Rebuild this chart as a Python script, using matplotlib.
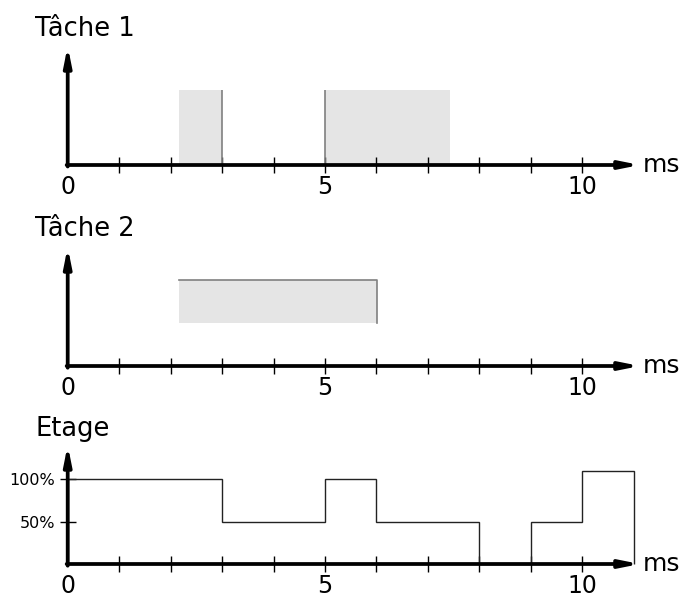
import matplotlib
import matplotlib.pyplot as plt

matplotlib.use('Agg')

tache1_debut = [2.16, 5.0]
tache1_fin = [3.0, 7.43]
tache1_traits = [3.0, 5.0]      # fin / début marqués d'un trait gris

tache2_debut = [2.16]
tache2_fin = [6.02]
tache2_bas = 0.5
tache2_haut = 1.0

etage_temps = [0, 3, 5, 6, 8, 9, 10, 11]
etage_niveau = [1.0, 0.5, 1.0, 0.5, 0.0, 0.5, 1.1]
etage_ticks = [0.5, 1.0]
etage_labels = ['50%', '100%']

x_ticks = list(range(0, 11))
x_labels = ['0', '', '', '', '', '5', '', '', '', '', '10']
x_fin = 11.12

titres = ['Tâche 1', 'Tâche 2', 'Etage']

# mise en page en pixels
W, H = 684, 597
X0_PX, PX_MS = 67.7, 51.46
# (haut bande, bas bande, ligne de base, pixels par unité)
bandes = [(0, 200, 165, 75), (200, 400, 366, 86), (400, 597, 564, 85)]
fleche_px = 119

GRIS = '#e5e5e5'
BORD = '#808080'
FLECHE = '-|>,head_length=1.1,head_width=0.22'

fig = plt.figure(figsize=(W / 100, H / 100), dpi=100)

axes = []
for i, (top, bot, base, ppu) in enumerate(bandes):
    ax = fig.add_axes([0, 1 - bot / H, 1, (bot - top) / H])
    ax.set_xlim(-X0_PX / PX_MS, (W - X0_PX) / PX_MS)
    ax.set_ylim((base - bot) / ppu, (base - top) / ppu)
    ax.patch.set_visible(False)
    for s in ['top', 'right']:
        ax.spines[s].set_visible(False)
    ax.spines['bottom'].set_position(('data', 0))
    ax.spines['left'].set_position(('data', 0))
    ax.spines['bottom'].set_visible(False)
    ax.spines['left'].set_visible(False)

    ax.set_xticks(x_ticks)
    ax.set_xticklabels(x_labels, fontsize=17)
    ax.tick_params(axis='x', direction='inout', length=11.5, width=1.0, pad=1.5)
    ax.xaxis.get_major_ticks()[0].tick1line.set_visible(False)

    y_top = fleche_px / ppu
    ax.annotate('', xy=(x_fin, 0), xytext=(-0.02, 0),
                arrowprops=dict(arrowstyle=FLECHE, mutation_scale=10, lw=2.7,
                                color='black', shrinkA=0, shrinkB=0), zorder=5)
    ax.annotate('', xy=(0, y_top), xytext=(0, -0.02),
                arrowprops=dict(arrowstyle=FLECHE, mutation_scale=10, lw=2.7,
                                color='black', shrinkA=0, shrinkB=0), zorder=5)
    ax.text(x_fin + 0.05, 0, 'ms', fontsize=18, va='center', ha='left')
    fig.text(35 / W, 1 - (top + 36) / H, titres[i], fontsize=18.5, va='baseline')
    axes.append(ax)

ax1, ax2, ax3 = axes

# Tâche 1
larg1 = [f - d for d, f in zip(tache1_debut, tache1_fin)]
ax1.bar(tache1_debut, [1.0] * len(larg1), width=larg1, align='edge',
        color=GRIS, zorder=1)
ax1.vlines(tache1_traits, 0, 1.0, colors=BORD, lw=1.2, zorder=2)
ax1.set_yticks([])

# Tâche 2
larg2 = [f - d for d, f in zip(tache2_debut, tache2_fin)]
ax2.bar(tache2_debut, [tache2_haut - tache2_bas] * len(larg2), width=larg2,
        bottom=tache2_bas, align='edge', color=GRIS, zorder=1)
for d, f in zip(tache2_debut, tache2_fin):
    ax2.plot([d, f, f], [tache2_haut, tache2_haut, tache2_bas],
             color=BORD, lw=1.2, zorder=2)
ax2.set_yticks([])

# Etage
ax3.stairs(etage_niveau, etage_temps, baseline=0, color='#222222', lw=1.0, zorder=2)
ax3.set_yticks(etage_ticks)
ax3.set_yticklabels(etage_labels, fontsize=11.5)
ax3.tick_params(axis='y', direction='inout', length=12, width=1.0, pad=3)

fig.savefig('out.png', dpi=100)
